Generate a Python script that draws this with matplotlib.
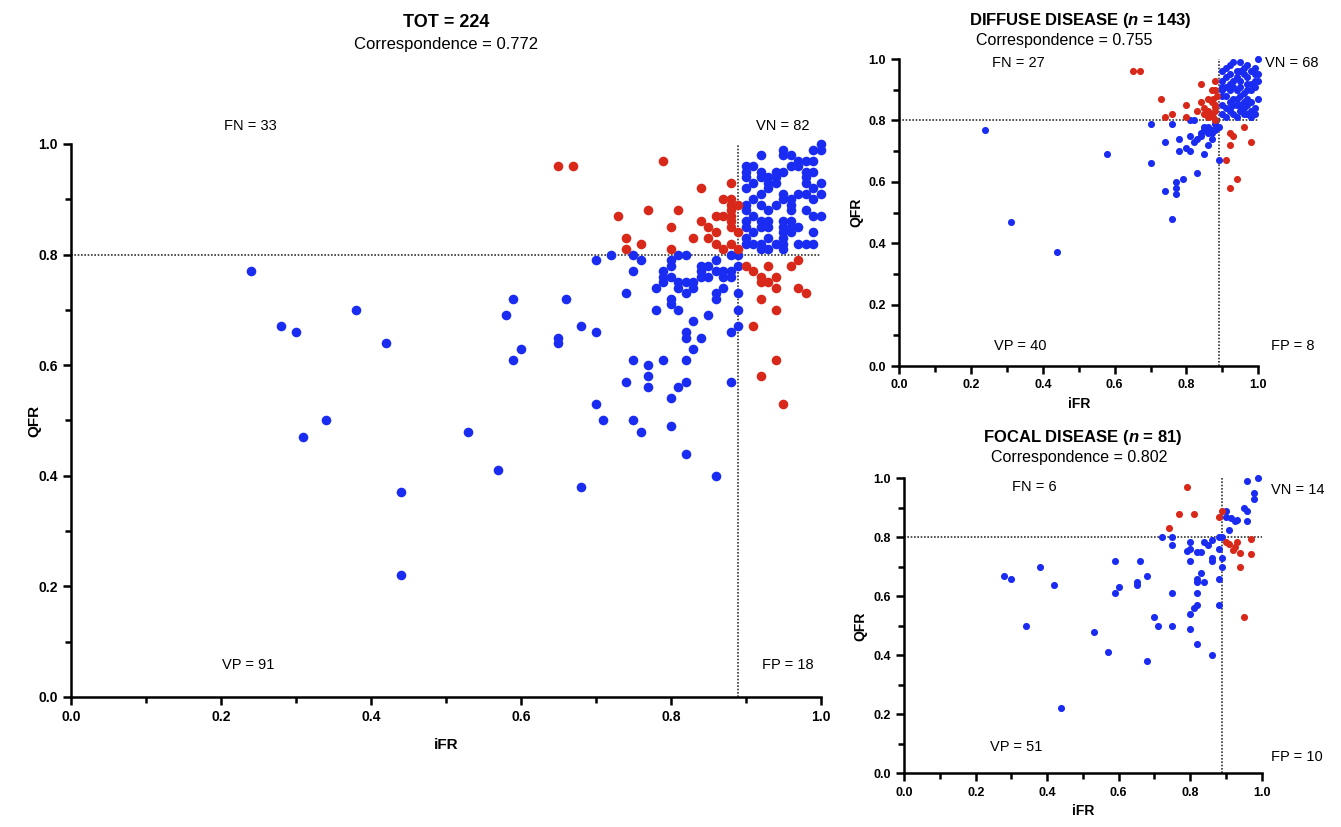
import numpy as np
import matplotlib.pyplot as plt
from matplotlib.ticker import MultipleLocator, FormatStrFormatter

plt.rcParams['font.family'] = ['Liberation Sans', 'DejaVu Sans']
plt.rcParams['mathtext.fontset'] = 'custom'
plt.rcParams['mathtext.it'] = 'Liberation Sans:italic:bold'

BLUE = '#1a2cf2'
RED = '#d8281a'
IFR_CUT = 0.89
QFR_CUT = 0.8

# ---- TOT (all lesions): (iFR, QFR) ----
tot_vn = [(0.92, 0.98), (0.95, 0.99), (0.95, 0.98), (0.96, 0.98), (0.99, 0.99), (1.0, 1.0),
          (1.0, 0.99), (0.98, 0.97), (0.99, 0.97), (0.96, 0.96), (0.97, 0.96), (0.95, 0.95),
          (0.90, 0.96), (0.90, 0.95), (0.90, 0.94), (0.92, 0.95), (0.92, 0.94), (0.98, 0.95),
          (0.98, 0.94), (0.98, 0.93), (0.93, 0.94), (0.94, 0.94), (0.93, 0.93), (0.94, 0.93),
          (0.93, 0.92), (0.91, 0.93), (0.90, 0.92), (0.99, 0.92), (1.0, 0.93), (1.0, 0.91),
          (0.98, 0.91), (0.92, 0.91), (0.95, 0.91), (0.95, 0.90), (0.96, 0.90), (0.96, 0.89),
          (0.96, 0.88), (0.91, 0.90), (0.90, 0.89), (0.90, 0.88), (0.92, 0.89), (0.93, 0.88),
          (0.99, 0.87), (1.0, 0.87), (0.90, 0.86), (0.90, 0.85), (0.92, 0.86), (0.92, 0.85),
          (0.93, 0.86), (0.93, 0.85), (0.95, 0.86), (0.96, 0.86), (0.95, 0.85), (0.96, 0.85),
          (0.91, 0.84), (0.93, 0.83), (0.95, 0.84), (0.95, 0.83), (0.95, 0.82), (0.95, 0.81),
          (0.96, 0.84), (0.99, 0.84), (0.90, 0.82), (0.91, 0.82), (0.92, 0.82), (0.93, 0.81),
          (0.97, 0.82), (0.98, 0.82), (0.99, 0.82), (0.90, 0.83), (0.92, 0.81), (0.94, 0.95),
          (0.97, 0.97), (0.99, 0.95), (0.97, 0.91), (0.91, 0.87), (0.94, 0.89), (0.98, 0.88),
          (0.97, 0.85), (0.94, 0.82), (0.91, 0.96), (0.99, 0.90)]
tot_vp = [(0.24, 0.77), (0.28, 0.67), (0.30, 0.66), (0.38, 0.70), (0.42, 0.64), (0.34, 0.50),
          (0.31, 0.47), (0.53, 0.48), (0.44, 0.37), (0.44, 0.22), (0.57, 0.41), (0.59, 0.72),
          (0.58, 0.69), (0.60, 0.63), (0.59, 0.61), (0.66, 0.72), (0.65, 0.65), (0.65, 0.64),
          (0.70, 0.79), (0.72, 0.80), (0.75, 0.80), (0.76, 0.79), (0.75, 0.77), (0.74, 0.73),
          (0.81, 0.80), (0.82, 0.80), (0.80, 0.78), (0.79, 0.77), (0.79, 0.76), (0.79, 0.75),
          (0.81, 0.75), (0.82, 0.75), (0.83, 0.75), (0.84, 0.78), (0.84, 0.77), (0.85, 0.76),
          (0.86, 0.79), (0.86, 0.77), (0.87, 0.77), (0.88, 0.77), (0.87, 0.76), (0.88, 0.76),
          (0.88, 0.80), (0.87, 0.74), (0.78, 0.74), (0.80, 0.72), (0.80, 0.71), (0.82, 0.73),
          (0.86, 0.73), (0.86, 0.72), (0.89, 0.73), (0.78, 0.70), (0.81, 0.70), (0.89, 0.70),
          (0.85, 0.69), (0.83, 0.68), (0.68, 0.67), (0.70, 0.66), (0.82, 0.66), (0.82, 0.65),
          (0.84, 0.65), (0.88, 0.66), (0.89, 0.67), (0.83, 0.63), (0.75, 0.61), (0.77, 0.60),
          (0.77, 0.58), (0.77, 0.56), (0.79, 0.61), (0.82, 0.61), (0.74, 0.57), (0.82, 0.57),
          (0.81, 0.56), (0.88, 0.57), (0.80, 0.54), (0.70, 0.53), (0.71, 0.50), (0.75, 0.50),
          (0.76, 0.48), (0.80, 0.49), (0.82, 0.44), (0.86, 0.40), (0.68, 0.38), (0.83, 0.74),
          (0.85, 0.78), (0.89, 0.78), (0.80, 0.79), (0.84, 0.76), (0.80, 0.76), (0.89, 0.80),
          (0.81, 0.74)]
tot_fn = [(0.65, 0.96), (0.67, 0.96), (0.79, 0.97), (0.88, 0.93), (0.84, 0.92), (0.87, 0.90),
          (0.88, 0.90), (0.88, 0.89), (0.89, 0.89), (0.87, 0.87), (0.88, 0.88), (0.88, 0.87),
          (0.73, 0.87), (0.77, 0.88), (0.81, 0.88), (0.84, 0.86), (0.80, 0.85), (0.85, 0.85),
          (0.88, 0.85), (0.89, 0.84), (0.83, 0.83), (0.85, 0.83), (0.74, 0.83), (0.76, 0.82),
          (0.74, 0.81), (0.80, 0.81), (0.86, 0.82), (0.87, 0.81), (0.88, 0.82), (0.89, 0.81),
          (0.86, 0.87), (0.88, 0.86), (0.86, 0.84)]
tot_fp = [(0.90, 0.78), (0.91, 0.77), (0.93, 0.78), (0.92, 0.76), (0.92, 0.75), (0.93, 0.75),
          (0.94, 0.76), (0.94, 0.74), (0.96, 0.78), (0.97, 0.79), (0.97, 0.74), (0.98, 0.73),
          (0.92, 0.72), (0.94, 0.70), (0.91, 0.67), (0.94, 0.61), (0.92, 0.58), (0.95, 0.53)]

# ---- diffuse disease ----
dif_vn = [(0.92, 0.98), (0.95, 0.99), (0.97, 0.98), (1.0, 1.0), (0.90, 0.96), (0.92, 0.95),
          (0.94, 0.96), (0.96, 0.95), (0.98, 0.96), (0.90, 0.93), (0.93, 0.93), (0.95, 0.93),
          (0.97, 0.92), (0.99, 0.93), (0.90, 0.90), (0.92, 0.90), (0.94, 0.90), (0.96, 0.89),
          (0.98, 0.90), (0.91, 0.88), (0.93, 0.87), (0.95, 0.88), (0.97, 0.87), (1.0, 0.87),
          (0.90, 0.85), (0.92, 0.84), (0.94, 0.85), (0.96, 0.84), (0.99, 0.84), (0.90, 0.82),
          (0.93, 0.82), (0.95, 0.83), (0.97, 0.82), (0.99, 0.82), (0.91, 0.81), (0.94, 0.81),
          (0.98, 0.81), (0.91, 0.97), (0.93, 0.99), (0.96, 0.97), (0.99, 0.95), (0.91, 0.94),
          (0.94, 0.94), (0.97, 0.94), (1.0, 0.93), (0.91, 0.91), (0.93, 0.91), (0.95, 0.91),
          (0.97, 0.90), (0.99, 0.91), (0.90, 0.88), (0.92, 0.86), (0.94, 0.87), (0.96, 0.86),
          (0.98, 0.86), (0.91, 0.84), (0.93, 0.85), (0.95, 0.85), (0.97, 0.85), (0.92, 0.83),
          (0.96, 0.82), (0.98, 0.83), (0.99, 0.97), (1.0, 0.95), (0.90, 0.91), (0.95, 0.96),
          (0.98, 0.92), (0.92, 0.92)]
dif_vp = [(0.24, 0.77), (0.31, 0.47), (0.44, 0.37), (0.58, 0.69), (0.70, 0.79), (0.70, 0.66),
          (0.74, 0.73), (0.74, 0.57), (0.76, 0.79), (0.76, 0.48), (0.77, 0.60), (0.77, 0.58),
          (0.77, 0.56), (0.78, 0.74), (0.78, 0.70), (0.79, 0.61), (0.80, 0.71), (0.81, 0.70),
          (0.81, 0.80), (0.82, 0.80), (0.81, 0.75), (0.82, 0.73), (0.83, 0.74), (0.84, 0.76),
          (0.85, 0.77), (0.86, 0.76), (0.87, 0.77), (0.88, 0.77), (0.88, 0.79), (0.87, 0.74),
          (0.86, 0.72), (0.85, 0.69), (0.83, 0.63), (0.89, 0.67), (0.88, 0.80), (0.85, 0.78),
          (0.86, 0.78), (0.87, 0.76), (0.84, 0.75), (0.89, 0.78)]
dif_fn = [(0.65, 0.96), (0.67, 0.96), (0.73, 0.87), (0.76, 0.82), (0.74, 0.81), (0.80, 0.85),
          (0.80, 0.81), (0.84, 0.92), (0.88, 0.93), (0.83, 0.83), (0.84, 0.86), (0.85, 0.84),
          (0.86, 0.87), (0.87, 0.90), (0.88, 0.90), (0.87, 0.86), (0.88, 0.85), (0.86, 0.83),
          (0.87, 0.82), (0.875, 0.81), (0.88, 0.83), (0.88, 0.845), (0.875, 0.87), (0.885, 0.88),
          (0.85, 0.82), (0.86, 0.81), (0.88, 0.80)]
dif_fp = [(0.92, 0.76), (0.93, 0.75), (0.96, 0.78), (0.98, 0.73), (0.92, 0.72), (0.91, 0.67),
          (0.94, 0.61), (0.92, 0.58)]

# ---- focal disease ----
foc_vn = [(0.96, 0.99), (0.99, 1.0), (0.98, 0.95), (0.98, 0.93), (0.95, 0.90), (0.96, 0.89),
          (0.96, 0.855), (0.90, 0.89), (0.90, 0.87), (0.915, 0.865), (0.93, 0.86), (0.925, 0.855),
          (0.91, 0.825), (0.89, 0.80)]
foc_vp = [(0.28, 0.67), (0.30, 0.66), (0.38, 0.70), (0.42, 0.64), (0.34, 0.50), (0.53, 0.48),
          (0.57, 0.41), (0.44, 0.22), (0.68, 0.38), (0.59, 0.72), (0.66, 0.72), (0.59, 0.61),
          (0.60, 0.63), (0.65, 0.65), (0.65, 0.64), (0.68, 0.67), (0.70, 0.53), (0.71, 0.50),
          (0.75, 0.50), (0.75, 0.61), (0.80, 0.72), (0.80, 0.49), (0.80, 0.54), (0.81, 0.56),
          (0.82, 0.57), (0.82, 0.61), (0.82, 0.65), (0.82, 0.66), (0.83, 0.68), (0.84, 0.65),
          (0.82, 0.44), (0.86, 0.40), (0.88, 0.66), (0.88, 0.57), (0.89, 0.70), (0.86, 0.72),
          (0.72, 0.80), (0.75, 0.80), (0.75, 0.775), (0.80, 0.785), (0.80, 0.76), (0.79, 0.755),
          (0.82, 0.75), (0.83, 0.75), (0.84, 0.785), (0.85, 0.775), (0.86, 0.79), (0.86, 0.73),
          (0.88, 0.76), (0.89, 0.73), (0.88, 0.80)]
foc_fn = [(0.79, 0.97), (0.77, 0.88), (0.81, 0.88), (0.74, 0.83), (0.88, 0.87), (0.89, 0.89)]
foc_fp = [(0.90, 0.785), (0.91, 0.777), (0.925, 0.768), (0.93, 0.785), (0.92, 0.757),
          (0.94, 0.746), (0.94, 0.70), (0.97, 0.794), (0.97, 0.743), (0.95, 0.53)]


def draw_panel(ax, blue, red, dot, tick_fs):
    b = np.array(blue)
    r = np.array(red)
    ax.scatter(b[:, 0], b[:, 1], s=dot, color=BLUE, linewidths=0, zorder=3, clip_on=False)
    ax.scatter(r[:, 0], r[:, 1], s=dot, color=RED, linewidths=0, zorder=3, clip_on=False)
    ax.axhline(QFR_CUT, color='#333333', ls=(0, (1, 1)), lw=1.2, zorder=1)
    ax.axvline(IFR_CUT, color='#333333', ls=(0, (1, 1)), lw=1.2, zorder=1)
    ax.set_xlim(0, 1)
    ax.set_ylim(0, 1)
    for s in ['top', 'right']:
        ax.spines[s].set_visible(False)
    for s in ['left', 'bottom']:
        ax.spines[s].set_linewidth(1.8)
    for axis in (ax.xaxis, ax.yaxis):
        axis.set_major_locator(MultipleLocator(0.2))
        axis.set_minor_locator(MultipleLocator(0.1))
        axis.set_major_formatter(FormatStrFormatter('%.1f'))
    ax.tick_params(which='major', length=6, width=1.8, labelsize=tick_fs)
    ax.tick_params(which='minor', length=4, width=1.8)
    for lab in ax.get_xticklabels() + ax.get_yticklabels():
        lab.set_fontweight('bold')
    ax.set_xlabel('iFR', fontweight='bold', fontsize=tick_fs + 1)
    ax.set_ylabel('QFR', fontweight='bold', fontsize=tick_fs + 1)


fig = plt.figure(figsize=(13.41, 8.27), dpi=100)

# main panel
ax = fig.add_axes([0.0529, 0.1572, 0.5593, 0.6687])
draw_panel(ax, tot_vp + tot_vn, tot_fn + tot_fp, 48, 10)
ax.xaxis.labelpad = 10
ax.yaxis.labelpad = -2
ax.text(0.5, 1.22, 'TOT = 224', transform=ax.transAxes, ha='center', va='center',
        fontsize=13, fontweight='bold')
ax.text(0.5, 1.18, 'Correspondence = 0.772', transform=ax.transAxes, ha='center',
        va='center', fontsize=12)
for label, x, y in [('FN = 33', 0.239, 1.033), ('VN = 82', 0.949, 1.033),
                    ('VP = 91', 0.236, 0.058), ('FP = 18', 0.956, 0.058)]:
    ax.text(x, y, label, ha='center', va='center', fontsize=10.5, clip_on=False)

# diffuse panel
ax2 = fig.add_axes([0.6706, 0.5574, 0.2677, 0.3712])
draw_panel(ax2, dif_vp + dif_vn, dif_fn + dif_fp, 26, 9)
ax2.text(0.503, 1.127, r'DIFFUSE DISEASE ($\it{n}$ = 143)', transform=ax2.transAxes,
         ha='center', va='center', fontsize=12, fontweight='bold')
ax2.text(0.46, 1.059, 'Correspondence = 0.755', transform=ax2.transAxes, ha='center',
         va='center', fontsize=11.5)
for label, x, y in [('FN = 27', 0.332, 0.987), ('VN = 68', 1.094, 0.987),
                    ('VP = 40', 0.336, 0.065), ('FP = 8', 1.095, 0.065)]:
    ax2.text(x, y, label, ha='center', va='center', fontsize=10.5, clip_on=False)

# focal panel
ax3 = fig.add_axes([0.6743, 0.0649, 0.2665, 0.3567])
draw_panel(ax3, foc_vp + foc_vn, foc_fn + foc_fp, 26, 9)
ax3.text(0.498, 1.14, r'FOCAL DISEASE ($\it{n}$ = 81)', transform=ax3.transAxes,
         ha='center', va='center', fontsize=12, fontweight='bold')
ax3.text(0.49, 1.069, 'Correspondence = 0.802', transform=ax3.transAxes, ha='center',
         va='center', fontsize=11.5)
for label, x, y in [('FN = 6', 0.363, 0.97), ('VN = 14', 1.1, 0.96),
                    ('VP = 51', 0.313, 0.09), ('FP = 10', 1.1, 0.055)]:
    ax3.text(x, y, label, ha='center', va='center', fontsize=10.5, clip_on=False)

fig.savefig('out.png', dpi=100)
